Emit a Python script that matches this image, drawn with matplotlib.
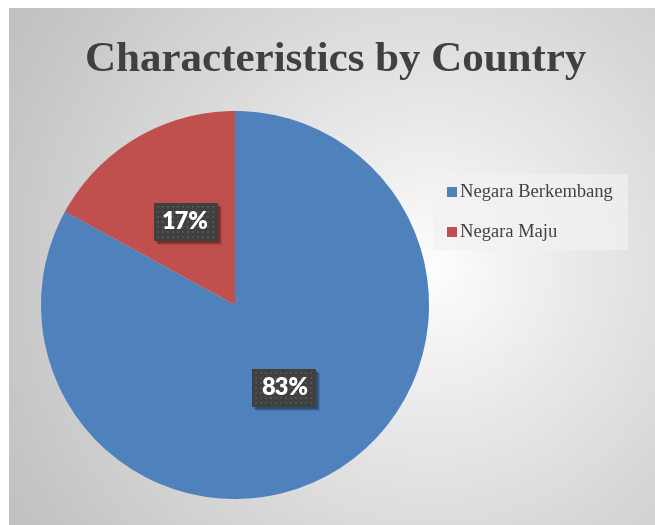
import matplotlib.pyplot as plt
import numpy as np
from matplotlib.patches import Rectangle

categories = ["Negara Berkembang", "Negara Maju"]
shares = [83, 17]
colors = ["#4F81BD", "#C0504D"]
title = "Characteristics by Country"

W, H = 655, 525


def background(fig):
    # radial grey -> white gradient like the Excel chart area
    bg = fig.add_axes([9 / W, 0, 1 - 9 / W, (H - 8) / H])
    bg.set_axis_off()
    xs = np.arange(9, W)
    ys = np.arange(8, H)
    xx, yy = np.meshgrid(xs, ys)
    d = np.hypot(xx - 430, yy - 270) / 480
    v = 1 - 0.24 * np.clip(d, 0, 1) ** 0.9
    img = np.dstack([v, v, v])
    bg.imshow(img, aspect="auto", extent=(0, 1, 0, 1), interpolation="bilinear")
    bg.set_xlim(0, 1)
    bg.set_ylim(0, 1)


def label_box(fig, px, py, bw=64, bh=38):
    # dark box with dotted texture and a soft drop shadow, in pixel coords
    x0, y0 = px - bw / 2, py - bh / 2
    for k, a in ((4, 0.10), (3, 0.15), (2, 0.2)):
        fig.patches.append(Rectangle((x0 + k, y0 - k), bw, bh, transform=None,
                                     facecolor="black", alpha=a, edgecolor="none", zorder=5))
    fig.patches.append(Rectangle((x0, y0), bw, bh, transform=None,
                                 facecolor="#404040", edgecolor="none", zorder=6))
    for gx in np.arange(x0 + 3, x0 + bw - 2, 5):
        for gy in np.arange(y0 + 3, y0 + bh - 2, 5):
            fig.patches.append(Rectangle((gx, gy), 2, 2, transform=None,
                                         facecolor="#525252", edgecolor="none", zorder=7))


def main():
    fig = plt.figure(figsize=(W / 100, H / 100), dpi=100)
    fig.patch.set_facecolor("white")
    background(fig)

    r = 194
    cx, cy = 235, 305
    ax = fig.add_axes([(cx - r) / W, (H - cy - r) / H, 2 * r / W, 2 * r / H])
    wedges, texts = ax.pie(shares, colors=colors, startangle=90, counterclock=False,
                           wedgeprops=dict(linewidth=0))
    ax.set_xlim(-1, 1)
    ax.set_ylim(-1, 1)
    ax.set_aspect("auto")

    # data labels
    start = 90
    for share in shares:
        mid = np.deg2rad(start - share / sum(shares) * 180)
        start -= share / sum(shares) * 360
        px, py = ax.transData.transform((0.5 * np.cos(mid), 0.5 * np.sin(mid)))
        label_box(fig, px, py)
        fig.text(px / W, py / H, "{}%".format(share), ha="center", va="center",
                 color="white", fontsize=17, fontweight="heavy", family="Lato", zorder=8)

    fig.text(336 / W, 1 - 71 / H, title, ha="center", va="baseline",
             fontsize=31, fontweight="bold", family="Liberation Serif", color="#404040")

    # legend
    fig.patches.append(Rectangle((433 / W, 1 - 250 / H), 195 / W, 76 / H,
                                 transform=fig.transFigure, facecolor="#f2f2f2",
                                 edgecolor="none", alpha=0.7))
    for i, (name, col) in enumerate(zip(categories, colors)):
        y = 1 - (193 + i * 40) / H
        fig.patches.append(Rectangle((447 / W, y - 4 / H), 10 / W, 10 / H,
                                     transform=fig.transFigure, facecolor=col, edgecolor="none"))
        fig.text(460 / W, y - 4 / H, name, ha="left", va="baseline", fontsize=13.3,
                 family="Liberation Serif", color="#404040")

    fig.savefig("out.png", dpi=100)


if __name__ == "__main__":
    main()
